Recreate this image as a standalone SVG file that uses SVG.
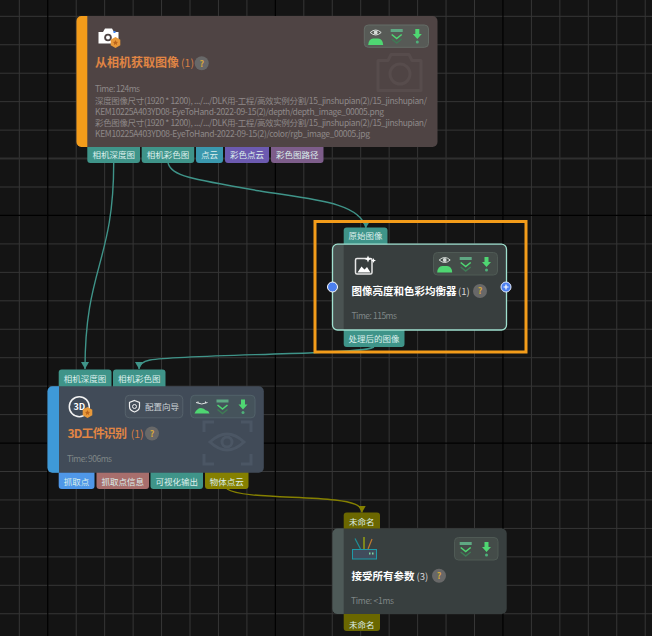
<svg xmlns="http://www.w3.org/2000/svg" width="652" height="636" viewBox="0 0 652 636">
<style>
text{font-family:"Noto Sans CJK SC","Noto Sans",sans-serif}
.grid{fill:none;stroke:#363636;stroke-width:1}
.major{fill:none;stroke:#000;stroke-width:1.2}
.axis{fill:none;stroke:#2f2f2f;stroke-width:2}
.port{font-size:8.5px;fill:#dcefec;text-anchor:middle}
.title{font-size:10.5px;font-weight:700;fill:#fff}
.otitle{font-size:12px;font-weight:700;fill:#e08544}
.num{font-size:9.5px;fill:#d8d8d8}
.onum{font-size:10.5px;fill:#d67f44}
.meta{font-size:8.5px;fill:#8e8888}
.time{font-size:8.5px;fill:#7f8686}
.help{fill:#686868}
.q{font-size:9px;font-weight:700;fill:#d4a53c;text-anchor:middle}
.bar{stroke-width:1}
.conn{fill:none;stroke-width:1.4}
.teal{stroke:#3f9489}
.olive{stroke:#858000}
</style>
<defs>
<marker id="aT" markerUnits="userSpaceOnUse" markerWidth="9" markerHeight="8" refX="4" refY="7" orient="0"><path d="M0 0H8L4 7Z" fill="#3f9489"/></marker>
<marker id="aO" markerUnits="userSpaceOnUse" markerWidth="9" markerHeight="8" refX="4" refY="7" orient="0"><path d="M0 0H8L4 7Z" fill="#858000"/></marker>
<g id="eye"><path d="M-5.500 -3Q0 -8 5.500 -3Q0 2 -5.500 -3Z" fill="none" stroke="#d6dcd8" stroke-width="1"/><circle cy="-3" r="1.900" fill="#d6dcd8"/><path d="M-7.500 9.500Q-7 3 -2.500 3H2.500Q7 3 7.500 9.500Z" fill="#4fd672"/></g>
<g id="chev"><rect x="-6" y="-6.500" width="12" height="3" fill="#5fa883"/><path d="M-5 -1L0 3L5 -1" fill="none" stroke="#4fd672" stroke-width="1.600"/><path d="M-5 3.500L0 7.500L5 3.500" fill="none" stroke="#3f7a55" stroke-width="1.600"/></g>
<g id="pin"><path d="M-2 -7H2V-2H4.500L0 3L-4.500 -2H-2Z" fill="#4fd672"/><circle cy="6" r="1.500" fill="#4fb07a"/></g>
<g id="badge"><path d="M0 -5.500L4.800 -2.800V2.800L0 5.500L-4.800 2.800V-2.800Z" fill="#e8993a"/><path d="M0 -2.600L.8 -.8L2.600 -.6L1.300 .6L1.600 2.400L0 1.500L-1.600 2.400L-1.300 .6L-2.600 -.6L-.8 -.8Z" fill="#b8641c"/></g>
</defs>

<rect id="background" width="652" height="636" fill="#141414"/>
<g id="grid">
<path class="grid" d="M19.3 0V636M76.2 0V636M104.65 0V636M133.1 0V636M161.55 0V636M190 0V636M218.45 0V636M246.9 0V636M303.8 0V636M332.25 0V636M360.7 0V636M389.15 0V636M417.6 0V636M446.05 0V636M474.5 0V636M531.4 0V636M559.85 0V636M588.3 0V636M616.75 0V636M645.2 0V636M0 16.3H652M0 44.75H652M0 73.2H652M0 101.65H652M0 130.1H652M0 187H652M0 243.9H652M0 272.35H652M0 300.8H652M0 329.25H652M0 357.7H652M0 386.15H652M0 414.6H652M0 471.5H652M0 499.95H652M0 528.4H652M0 556.85H652M0 585.3H652M0 613.75H652"/>
<path class="axis" d="M0 158.55H652"/>
<path class="major" d="M47.75 0V636M275.35 0V636M502.95 0V636M0 215.45H652M0 443.05H652"/>
</g>

<g id="connectors">
<path class="conn teal" d="M113.7 163C113.7 262 85 268 85 369" marker-end="url(#aT)"/>
<path class="conn teal" d="M168 163C172 176 190 179 260 191C310 199 360 202 366 228" marker-end="url(#aT)"/>
<path class="conn teal" d="M374 347C366 351 340 351.600 313 352.700C260 355 175 356 150 360C143 361.500 139 364 139 369" marker-end="url(#aT)"/>
<path class="conn olive" d="M227 489C240 498 300 496 335 500C352 502 362 505 362 512.500" marker-end="url(#aO)"/>
</g>

<g id="node-capture">
<rect x="87.300" y="143" width="52.700" height="20" rx="3" fill="#3f9489"/><text class="port" x="113.700" y="158">相机深度图</text>
<rect x="141.700" y="143" width="52.500" height="20" rx="3" fill="#3f9489"/><text class="port" x="168" y="158">相机彩色图</text>
<rect x="196" y="143" width="27" height="20" rx="3" fill="#3a98ae"/><text class="port" x="209.500" y="158">点云</text>
<rect x="225" y="143" width="44" height="20" rx="3" fill="#6c5ab0"/><text class="port" x="247" y="158">彩色点云</text>
<rect x="271" y="143" width="52.500" height="20" rx="3" fill="#7d5d8a"/><text class="port" x="297.200" y="158">彩色图路径</text>
<rect x="76.500" y="16" width="361" height="131" rx="5" fill="#4f4444"/>
<path d="M87.300 16H81.500a5 5 0 0 0-5 5V142a5 5 0 0 0 5 5H87.300Z" fill="#f39c1a"/>
<g fill="none" stroke="#574c4c" stroke-width="3"><path d="M378 60.500H388L391 54.500H409L412 60.500H421V90.500H378Z" stroke-linejoin="round"/><circle cx="400" cy="74" r="10"/></g>
<path d="M98.500 32H103L105 28.500H112L114 32H118.500V43.500H98.500Z" fill="#fff"/><circle cx="108" cy="37.500" r="3.800" fill="#4f4444"/><circle cx="108" cy="37.500" r="2" fill="#fff"/><rect x="113.500" y="31" width="2" height="2" fill="#3b82f0"/>
<use href="#badge" x="115.500" y="42.500"/>
<text class="otitle" x="95" y="67">从相机获取图像</text><text class="onum" x="181" y="67">(1)</text>
<circle class="help" cx="201.700" cy="63.300" r="7"/><text class="q" x="201.700" y="66.500">?</text>
<text class="meta" x="95" y="92" textLength="45">Time: 124ms</text>
<text class="meta" x="95" y="103.500" textLength="332">深度图像尺寸(1920 * 1200), .../.../DLK用-工程/高效实例分割/15_jinshupian(2)/15_jinshupian/</text>
<text class="meta" x="95" y="114.500" textLength="289">KEM10225A403YD08-EyeToHand-2022-09-15(2)/depth/depth_image_00005.png</text>
<text class="meta" x="95" y="125.500" textLength="332">彩色图像尺寸(1920 * 1200), .../.../DLK用-工程/高效实例分割/15_jinshupian(2)/15_jinshupian/</text>
<text class="meta" x="95" y="136.500" textLength="275">KEM10225A403YD08-EyeToHand-2022-09-15(2)/color/rgb_image_00005.jpg</text>
<rect class="bar" x="364.300" y="25" width="64.200" height="22.300" rx="4" fill="#575a56" stroke="#646c66"/>
<use href="#eye" x="375.700" y="35.500"/><use href="#chev" x="396.700" y="35.500"/><use href="#pin" x="417.300" y="36"/>
</g>

<g id="node-equalizer">
<rect x="343.700" y="227.500" width="43.800" height="20" rx="3" fill="#3f9489"/><text class="port" x="365.600" y="239">原始图像</text>
<rect x="343.700" y="326" width="60.800" height="21" rx="3" fill="#3f9489"/><text class="port" x="374" y="342">处理后的图像</text>
<rect x="332.500" y="244.200" width="174" height="85.800" rx="5" fill="#383e3e"/>
<path d="M343.700 244.200H337.500a5 5 0 0 0-5 5V325a5 5 0 0 0 5 5H343.700Z" fill="#4a5352"/>
<rect x="332.500" y="244.200" width="174" height="85.800" rx="5" fill="none" stroke="#9fe0cf" stroke-width="1.300"/>
<rect x="355.500" y="258.500" width="16.500" height="15.500" rx="1.500" fill="none" stroke="#e6e6e6" stroke-width="1.500"/>
<path d="M357.500 272.500L361.500 266.500L364.500 269.500L367 267L370.500 272.500Z" fill="#fff"/>
<path d="M368 255.500L369 258L371.500 259L369 260L368 262.500L367 260L364.500 259L367 258ZM373.500 258L374.200 259.800L376 260.500L374.200 261.200L373.500 263L372.800 261.200L371 260.500L372.800 259.800Z" fill="#fff"/>
<text class="title" x="351.500" y="295">图像亮度和色彩均衡器</text><text class="num" x="458" y="295">(1)</text>
<circle class="help" cx="480" cy="291" r="7"/><text class="q" x="480" y="294.200">?</text>
<text class="time" x="351.500" y="319" textLength="45.500">Time: 115ms</text>
<rect class="bar" x="433.500" y="252.500" width="64" height="22.500" rx="4" fill="#444c49" stroke="#4f5a55"/>
<use href="#eye" x="444.700" y="263"/><use href="#chev" x="465.700" y="263.500"/><use href="#pin" x="486.500" y="264"/>
<circle cx="332.500" cy="287" r="5" fill="#4c80f0" stroke="#fff" stroke-width="1"/>
<circle cx="506" cy="287" r="5" fill="#4c80f0" stroke="#dfe8ff" stroke-width="1"/><path d="M503.500 287H508.500M506 284.500V289.500" stroke="#fff" stroke-width="1.200"/>
</g>
<rect id="selection" x="315" y="221.500" width="211" height="130.500" fill="none" stroke="#f39c1a" stroke-width="3"/>

<g id="node-3d">
<rect x="58.700" y="369.500" width="52.800" height="20" rx="3" fill="#3f9489"/><text class="port" x="85" y="381.500">相机深度图</text>
<rect x="113" y="369.500" width="52.500" height="20" rx="3" fill="#3f9489"/><text class="port" x="139.200" y="381.500">相机彩色图</text>
<rect x="58.700" y="468" width="35.800" height="21" rx="3" fill="#4f97e8"/><text class="port" x="76.600" y="485">抓取点</text>
<rect x="96.500" y="468" width="52.500" height="21" rx="3" fill="#a86e6c"/><text class="port" x="122.700" y="485">抓取点信息</text>
<rect x="150.500" y="468" width="52.500" height="21" rx="3" fill="#3f9489"/><text class="port" x="176.700" y="485">可视化输出</text>
<rect x="205" y="468" width="43.500" height="21" rx="3" fill="#858000"/><text class="port" x="226.700" y="485">物体点云</text>
<rect x="47.500" y="386.200" width="216.300" height="86.500" rx="5" fill="#414b58"/>
<path d="M59 386.200H52.500a5 5 0 0 0-5 5V467.700a5 5 0 0 0 5 5H59Z" fill="#3e99d8"/>
<g fill="none" stroke="#4b5664" stroke-width="3"><path d="M204 432V422H214M241 422H251V432M251 454V464H241M214 464H204V454"/><path d="M210 442Q227 426 244 442Q227 458 210 442Z"/><circle cx="227" cy="442" r="5"/></g>
<circle cx="79.300" cy="406.700" r="10" fill="none" stroke="#f2f2f2" stroke-width="1.500"/>
<text x="79.300" y="410" font-size="9" font-weight="700" fill="#fff" text-anchor="middle">3D</text>
<use href="#badge" x="87.500" y="412.500"/>
<text class="otitle" x="67.500" y="438" textLength="59.500">3D工件识别</text><text class="onum" x="130.700" y="438">(1)</text>
<circle class="help" cx="152" cy="433.500" r="7"/><text class="q" x="152" y="436.700">?</text>
<text class="time" x="67" y="462" textLength="45">Time: 906ms</text>
<rect class="bar" x="125.300" y="395.300" width="57.500" height="22.500" rx="4" fill="#454f5b" stroke="#56626b"/>
<path d="M134.500 400.500L139.500 402.500V406.500Q139.500 410.500 134.500 412Q129.500 410.500 129.500 406.500V402.500Z" fill="none" stroke="#f0f0f0" stroke-width="1.200"/><circle cx="134.500" cy="406.500" r="2" fill="none" stroke="#f0f0f0"/>
<text x="145" y="409.500" font-size="8.500" fill="#cbd1d5">配置向导</text>
<rect class="bar" x="190.700" y="395.300" width="64.300" height="22.500" rx="4" fill="#45535b" stroke="#52626a"/>
<path d="M196 402.500Q201.700 405.500 207.500 402.500M198 401.500V403M205.500 401.500V403" fill="none" stroke="#e0e4e4"/><path d="M194.500 413.500Q197 408 201 408Q204 408 206 410.500Q208.500 410 209.500 413.500Z" fill="#4fd672"/>
<use href="#chev" x="222.500" y="406"/><use href="#pin" x="243" y="406.500"/>
</g>

<g id="node-params">
<rect x="343.700" y="512.500" width="36.300" height="20" rx="3" fill="#6b6700"/><text class="port" x="361.800" y="524.500">未命名</text>
<rect x="343.700" y="610" width="36.300" height="21" rx="3" fill="#6b6700"/><text class="port" x="361.800" y="627.500">未命名</text>
<rect x="332.500" y="528.600" width="174.200" height="85.400" rx="5" fill="#383f3f"/>
<path d="M343.700 528.600H337.500a5 5 0 0 0-5 5V609a5 5 0 0 0 5 5H343.700Z" fill="#4e5a58"/>
<rect x="352.500" y="549.500" width="24" height="9.500" fill="#414c5c" stroke="#1f9aa8"/>
<path d="M355 538.500L360.500 549" stroke="#1f8f98" stroke-width="1.200"/><path d="M364 537V549" stroke="#858f1a" stroke-width="1.800"/><path d="M372 539L368 549" stroke="#c07a30" stroke-width="1.200"/>
<rect x="369" y="552.500" width="1.500" height="2" fill="#7fd8a0"/><rect x="372" y="552.500" width="1.500" height="2" fill="#7fd8a0"/>
<text class="title" x="351.500" y="580">接受所有参数</text><text class="num" x="416.500" y="580">(3)</text>
<circle class="help" cx="439" cy="575.700" r="7"/><text class="q" x="439" y="579">?</text>
<text class="time" x="351" y="604" textLength="43">Time: &lt;1ms</text>
<rect class="bar" x="454.500" y="537.500" width="43.500" height="22.500" rx="4" fill="#444c49" stroke="#4f5a55"/>
<use href="#chev" x="465.700" y="548.500"/><use href="#pin" x="486.500" y="549"/>
</g>
</svg>
